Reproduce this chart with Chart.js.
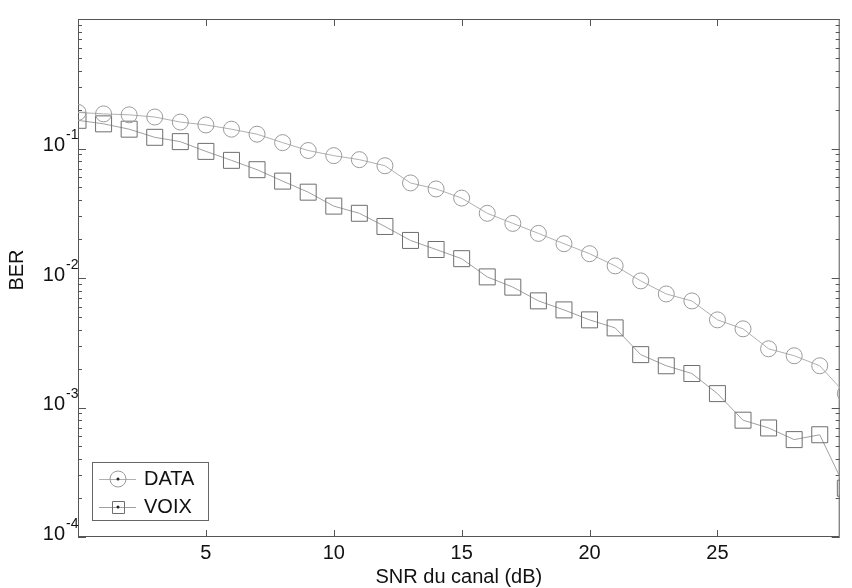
<!DOCTYPE html>
<html><head><meta charset="utf-8">
<script src="https://cdn.jsdelivr.net/npm/chart.js@4.4.0/dist/chart.umd.min.js"></script>
<style>html,body{margin:0;padding:0;background:#fff;}#wrap{width:852px;height:588px;}</style>
</head><body><div id="wrap"><canvas id="c" width="852" height="588"></canvas></div>
<script>
// ---- data ----
const snr = [0,1,2,3,4,5,6,7,8,9,10,11,12,13,14,15,16,17,18,19,20,21,22,23,24,25,26,27,28,29,30];
const dataBER = [0.19,0.185,0.182,0.175,0.160,0.152,0.141,0.129,0.111,0.0965,0.0881,0.082,0.0736,0.0542,0.0487,0.0414,0.0316,0.0264,0.0221,0.0184,0.0154,0.0124,0.0095,0.00753,0.00665,0.00475,0.00405,0.00284,0.00251,0.0021,0.00128];
const voixBER = [0.165,0.155,0.141,0.122,0.113,0.095,0.081,0.0686,0.056,0.046,0.0359,0.0316,0.025,0.0195,0.0166,0.0141,0.0102,0.0085,0.00666,0.00567,0.00475,0.00412,0.00256,0.0021,0.00183,0.00128,0.000798,0.000695,0.000565,0.000616,0.000238];
const xTickValues = [5,10,15,20,25];
const yTickExponents = [-1,-2,-3,-4];
const seriesNames = ['DATA','VOIX'];
const xTitle = 'SNR du canal (dB)';
const yTitle = 'BER';

const FONT = '"Liberation Sans", Arial, Helvetica, sans-serif';
const circleColor = '#9a9a9a', squareColor = '#6e6e6e';
const lineColor1 = '#b0b0b0', lineColor2 = '#a0a0a0';

const decor = {
  id: 'decor',
  beforeDatasetsDraw(chart) {
    const {ctx, chartArea: a, scales: {x, y}} = chart;
    ctx.save();
    ctx.strokeStyle = '#555';
    ctx.lineWidth = 1;
    ctx.strokeRect(a.left + 0.5, a.top + 0.5, a.right - a.left - 1, a.bottom - a.top - 1);
    ctx.beginPath();
    // y ticks (major + minor), inward on both sides
    for (let e = -4; e <= 0; e++) {
      const py = Math.round(y.getPixelForValue(Math.pow(10, e))) + 0.5;
      ctx.moveTo(a.left, py); ctx.lineTo(a.left + 8, py);
      ctx.moveTo(a.right, py); ctx.lineTo(a.right - 8, py);
      if (e < 0) {
        for (let m = 2; m <= 9; m++) {
          const pm = Math.round(y.getPixelForValue(m * Math.pow(10, e))) + 0.5;
          ctx.moveTo(a.left, pm); ctx.lineTo(a.left + 4, pm);
          ctx.moveTo(a.right, pm); ctx.lineTo(a.right - 4, pm);
        }
      }
    }
    // x ticks inward bottom and top
    xTickValues.forEach(v => {
      const px = Math.round(x.getPixelForValue(v)) + 0.5;
      ctx.moveTo(px, a.bottom); ctx.lineTo(px, a.bottom - 7);
      ctx.moveTo(px, a.top); ctx.lineTo(px, a.top + 7);
    });
    ctx.stroke();

    // labels
    ctx.fillStyle = '#111';
    ctx.font = '20px ' + FONT;
    ctx.textAlign = 'center';
    ctx.textBaseline = 'middle';
    xTickValues.forEach(v => ctx.fillText(String(v), x.getPixelForValue(v), 553));
    ctx.fillText(xTitle, (a.left + a.right) / 2, 577);
    yTickExponents.forEach(e => {
      const py = y.getPixelForValue(Math.pow(10, e));
      ctx.font = '20px ' + FONT;
      ctx.textAlign = 'right';
      ctx.fillText('10', 65, py - 3);
      ctx.font = '14px ' + FONT;
      ctx.textAlign = 'left';
      ctx.fillText(String(e), 66, py - 13);
    });
    ctx.font = '20px ' + FONT;
    ctx.textAlign = 'center';
    ctx.translate(17, 270);
    ctx.rotate(-Math.PI / 2);
    ctx.fillText(yTitle, 0, 0);
    ctx.restore();
  },
  afterDatasetsDraw(chart) {
    const {ctx} = chart;
    ctx.save();
    const bx = 92, by = 462, bw = 116, bh = 58;
    ctx.fillStyle = '#fff';
    ctx.fillRect(bx, by, bw, bh);
    ctx.strokeStyle = '#666';
    ctx.lineWidth = 1;
    ctx.strokeRect(bx + 0.5, by + 0.5, bw, bh);
    const rows = [
      {name: seriesNames[0], y: 479, col: circleColor, line: lineColor1, shape: 'circle'},
      {name: seriesNames[1], y: 507, col: squareColor, line: lineColor2, shape: 'rect'}
    ];
    rows.forEach(r => {
      ctx.strokeStyle = r.line;
      ctx.beginPath();
      ctx.moveTo(99, r.y + 0.5); ctx.lineTo(136, r.y + 0.5);
      ctx.stroke();
      ctx.strokeStyle = r.col;
      ctx.beginPath();
      if (r.shape === 'circle') ctx.arc(118, r.y, 8, 0, Math.PI * 2);
      else ctx.rect(112.5, r.y - 5.5, 12, 12);
      ctx.stroke();
      ctx.fillStyle = '#222';
      ctx.beginPath(); ctx.arc(118, r.y, 1.5, 0, Math.PI * 2); ctx.fill();
      ctx.fillStyle = '#111';
      ctx.font = '20px ' + FONT;
      ctx.textAlign = 'left';
      ctx.textBaseline = 'middle';
      ctx.fillText(r.name, 144, r.y);
    });
    ctx.restore();
  }
};

new Chart(document.getElementById('c'), {
  type: 'line',
  data: {
    datasets: [
      {label: seriesNames[0], data: snr.map((s, i) => ({x: s, y: dataBER[i]})),
       borderColor: lineColor1, borderWidth: 1, pointStyle: 'circle', pointRadius: 8,
       pointBorderColor: circleColor, pointBackgroundColor: 'rgba(0,0,0,0)', pointBorderWidth: 1,
       fill: false, tension: 0, clip: 0},
      {label: seriesNames[1], data: snr.map((s, i) => ({x: s, y: voixBER[i]})),
       borderColor: lineColor2, borderWidth: 1, pointStyle: 'rect', pointRadius: 11.3,
       pointBorderColor: squareColor, pointBackgroundColor: 'rgba(0,0,0,0)', pointBorderWidth: 1,
       fill: false, tension: 0, clip: 0}
    ]
  },
  options: {
    responsive: false,
    animation: false,
    devicePixelRatio: 1,
    layout: {padding: {top: 19, right: 1, left: 0, bottom: 0}},
    plugins: {legend: {display: false}, tooltip: {enabled: false}},
    scales: {
      x: {type: 'linear', min: 0, max: 29.78,
          ticks: {display: false}, grid: {display: false}, border: {display: false},
          afterFit(s) { s.height = 51; }},
      y: {type: 'logarithmic', min: 1e-4, max: 1,
          ticks: {display: false}, grid: {display: false}, border: {display: false},
          afterFit(s) { s.width = 78; }}
    }
  },
  plugins: [decor]
});
</script></body></html>
